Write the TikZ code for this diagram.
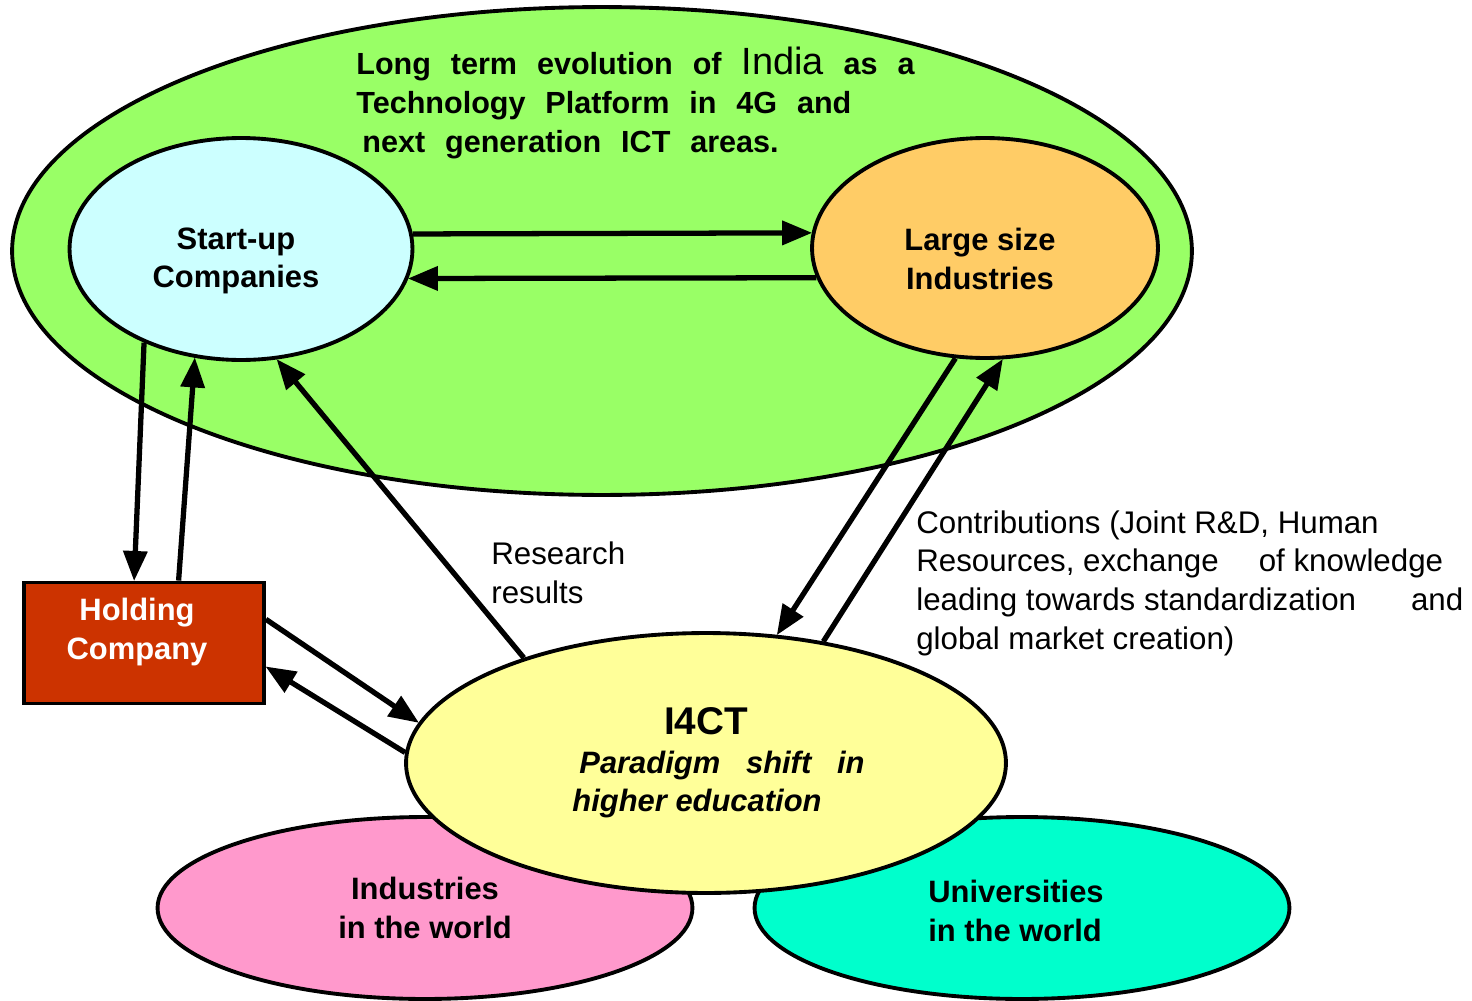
\documentclass[tikz,border=0pt]{standalone}
\usepackage{fontspec}
\setmainfont{Liberation Sans}
\usetikzlibrary{shapes}
\usetikzlibrary{arrows}
\definecolor{grn}{HTML}{99FF66}
\definecolor{icy}{HTML}{CCFFFF}
\definecolor{amb}{HTML}{FFCC66}
\definecolor{rst}{HTML}{CC3300}
\definecolor{yel}{HTML}{FFFF99}
\definecolor{pnk}{HTML}{FF99CC}
\definecolor{aqu}{HTML}{00FFCC}
\newcommand{\wsp}{\spaceskip=0.65em plus 0.1em\relax}
\tikzset{
	blob/.style = {ellipse, draw=black, line width=2.2pt, inner sep=0pt,
		align=center, text centered, font=\bfseries\fontsize{17.6}{22}\selectfont},
	blob_g/.style = {blob, fill=grn, minimum width=23.6cm, minimum height=9.76cm},% outer field
	blob_s/.style = {blob, fill=icy, minimum width=6.86cm, minimum height=4.44cm},% start-up
	blob_l/.style = {blob, fill=amb, minimum width=6.92cm, minimum height=4.4cm},% large industries
	blob_i/.style = {blob, fill=yel, minimum width=12cm, minimum height=5.2cm},% I4CT
	blob_w/.style = {blob, minimum width=10.7cm, minimum height=3.64cm},% world
	box_h/.style = {rectangle, draw=black, fill=rst, line width=2.2pt,
		minimum width=4.8cm, minimum height=2.42cm},
	tag/.style = {align=center, inner sep=0pt, font=\bfseries\fontsize{17.6}{22}\selectfont},
	note/.style = {align=left, inner sep=0pt, font=\fontsize{17.8}{22}\selectfont},
	flow/.style = {line width=3pt}
}
\begin{document}
\begin{tikzpicture}[->,>=triangle 45,x=0.02cm,y=-0.02cm]
	\useasboundingbox (0,0) rectangle (1472,1001);
	\node [blob_g] (grn) at (602,251) {};
	\node [blob_s] (su) at (241,249) {};
	\node [tag] (su_t) at (236,261) {Start-up\\Companies};
	\node [blob_l] (li) at (985,248) {};
	\node [tag] (li_t) at (980,259) {Large size\\Industries};
	\node [anchor=west, align=left, inner sep=0pt,
		font=\bfseries\fontsize{17.4}{22.2}\selectfont]
		(aim) at (356,103) {\wsp Long term evolution of {\mdseries\fontsize{21.6}{22.2}\selectfont India} as a\\
		\wsp Technology Platform in 4G and\\
		\hspace*{0.12cm}\wsp next generation ICT areas.};
	\node [blob_w, fill=pnk] (iw) at (425,908) {Industries\\in the world};
	\node [blob_w, fill=aqu] (uw) at (1022,908) {};
	\node [tag, align=left] (uw_t) at (1016,911) {Universities\\in the world};
	\node [blob_i] (ic) at (706,763) {{\fontsize{22}{26}\selectfont I4CT}\\
		\hspace*{0.64cm}{\itshape Paradigm\ \ \ shift\ \ \ in}\\
		{\itshape higher education}\hspace*{0.36cm}};
	\node [box_h] (hc) at (144,643) {};
	\node [tag, text=white] (hc_t) at (137,632) {Holding\\Company};
	\node [note, anchor=west] (rr) at (491,573) {Research\\results};
	\node [note, anchor=west] (cb) at (916,583) {Contributions (Joint R\&D, Human\\
		Resources, exchange\hspace{0.8cm}of knowledge\\
		leading towards standardization\hspace{1.1cm}and\\
		global market creation)};
	\draw [flow] (su.5) -- (li.175);
	\draw [flow] (li.-170) -- (su.-10);
	\draw [flow] (su.-136) -- (hc.99);
	\draw [flow] (hc.61) -- (su.-113);
	\draw [flow] (ic.150) -- (su.-72);
	\draw [flow] (li.-105) -- (ic.61);
	\draw [flow] (ic.46) -- (li.-81);
	\draw [flow] (hc.11) -- (ic.172);
	\draw [flow] (ic.178) -- (hc.-11);
\end{tikzpicture}
\end{document}
